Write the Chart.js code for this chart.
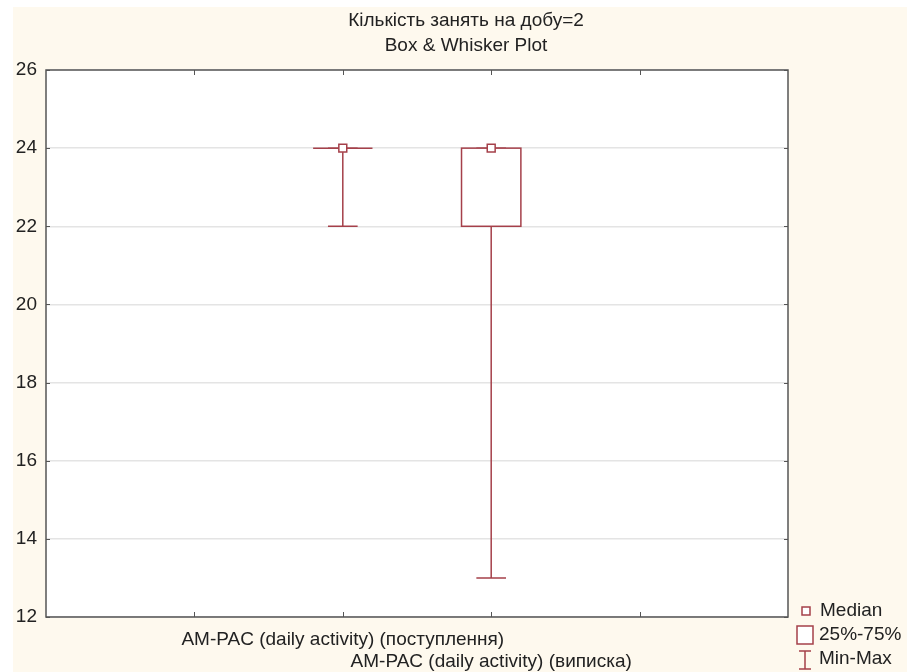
<!DOCTYPE html>
<html>
<head>
<meta charset="utf-8">
<script src="https://cdn.jsdelivr.net/npm/chart.js@4.4.1/dist/chart.umd.min.js"></script>
<style>
  html, body { margin: 0; padding: 0; background: #ffffff; }
  #chart { display: block; }
</style>
</head>
<body>
<canvas id="chart" width="907" height="672"></canvas>
<script>
// data
const titleLines = ['Кількість занять на добу=2', 'Box & Whisker Plot'];
const groups = ['AM-PAC (daily activity) (поступлення)', 'AM-PAC (daily activity) (виписка)'];
const positions = [2, 3];
const mins = [22, 13];
const q1s = [24, 22];
const medians = [24, 24];
const q3s = [24, 24];
const maxs = [24, 24];
const yTicks = [12, 14, 16, 18, 20, 22, 24, 26];
const xTicks = [1, 2, 3, 4];
const legendLabels = ['Median', '25%-75%', 'Min-Max'];

const boxColor = '#a5404a';
const fontFamily = '"Liberation Sans", Arial, sans-serif';

// beige page + white plot area + frame, title and legend
const backgroundPlugin = {
    id: 'backgroundPlugin',
    beforeDraw(chart) {
        const ctx = chart.ctx;
        const a = chart.chartArea;
        ctx.save();
        ctx.fillStyle = '#fef9ee';
        ctx.fillRect(13, 7, chart.width - 13, chart.height - 7);
        ctx.fillStyle = '#ffffff';
        ctx.fillRect(a.left, a.top, a.right - a.left, a.bottom - a.top);
        ctx.restore();
    },
    afterDraw(chart) {
        const ctx = chart.ctx;
        const a = chart.chartArea;
        const x = chart.scales.x;
        const y = chart.scales.y;
        ctx.save();
        ctx.strokeStyle = '#555555';
        ctx.lineWidth = 1.5;
        ctx.strokeRect(a.left, a.top, a.right - a.left, a.bottom - a.top);
        // inward tick marks
        ctx.lineWidth = 1;
        ctx.beginPath();
        xTicks.forEach(v => {
            const px = Math.round(x.getPixelForValue(v)) + 0.5;
            ctx.moveTo(px, a.top); ctx.lineTo(px, a.top + 5);
            ctx.moveTo(px, a.bottom); ctx.lineTo(px, a.bottom - 5);
        });
        yTicks.forEach(v => {
            const py = Math.round(y.getPixelForValue(v)) + 0.5;
            ctx.moveTo(a.left, py); ctx.lineTo(a.left + 4, py);
            ctx.moveTo(a.right, py); ctx.lineTo(a.right - 4, py);
        });
        ctx.stroke();

        // title
        ctx.fillStyle = '#222222';
        ctx.font = '19px ' + fontFamily;
        ctx.textAlign = 'center';
        ctx.textBaseline = 'alphabetic';
        ctx.fillText(titleLines[0], 466, 26);
        ctx.fillText(titleLines[1], 466, 51);

        // legend
        ctx.strokeStyle = boxColor;
        ctx.fillStyle = '#ffffff';
        ctx.lineWidth = 1.5;
        ctx.fillRect(802, 607, 8, 8);
        ctx.strokeRect(802, 607, 8, 8);
        ctx.fillRect(797, 626, 16, 18);
        ctx.strokeRect(797, 626, 16, 18);
        ctx.beginPath();
        ctx.moveTo(799, 651); ctx.lineTo(811, 651);
        ctx.moveTo(805, 651); ctx.lineTo(805, 669);
        ctx.moveTo(799, 669); ctx.lineTo(811, 669);
        ctx.stroke();
        ctx.fillStyle = '#222222';
        ctx.textAlign = 'left';
        ctx.fillText(legendLabels[0], 820, 616);
        ctx.fillText(legendLabels[1], 819, 640);
        ctx.fillText(legendLabels[2], 819, 664);
        ctx.restore();
    }
};

// boxes and whiskers from the arrays above
const boxPlugin = {
    id: 'boxPlugin',
    beforeDatasetsDraw(chart) {
        const ctx = chart.ctx;
        const x = chart.scales.x;
        const y = chart.scales.y;
        const unit = x.getPixelForValue(1) - x.getPixelForValue(0);
        const half = unit * 0.2;
        const cap = unit * 0.1;
        ctx.save();
        ctx.strokeStyle = boxColor;
        ctx.lineWidth = 1.5;
        positions.forEach((pos, i) => {
            const cx = x.getPixelForValue(pos);
            const yMin = y.getPixelForValue(mins[i]);
            const yMax = y.getPixelForValue(maxs[i]);
            const yQ1 = y.getPixelForValue(q1s[i]);
            const yQ3 = y.getPixelForValue(q3s[i]);
            ctx.beginPath();
            ctx.moveTo(cx, yQ1); ctx.lineTo(cx, yMin);
            ctx.moveTo(cx - cap, yMin); ctx.lineTo(cx + cap, yMin);
            ctx.moveTo(cx, yQ3); ctx.lineTo(cx, yMax);
            ctx.moveTo(cx - cap, yMax); ctx.lineTo(cx + cap, yMax);
            ctx.stroke();
            ctx.fillStyle = '#ffffff';
            ctx.fillRect(cx - half, yQ3, half * 2, yQ1 - yQ3);
            ctx.strokeRect(cx - half, yQ3, half * 2, yQ1 - yQ3);
        });
        ctx.restore();
    }
};

Chart.defaults.font.family = fontFamily;
Chart.defaults.font.size = 19;
Chart.defaults.color = '#222222';

new Chart(document.getElementById('chart'), {
    type: 'scatter',
    data: {
        datasets: [{
            label: 'Median',
            data: positions.map((p, i) => ({ x: p, y: medians[i] })),
            pointStyle: 'rect',
            pointRadius: 5.6,
            pointHoverRadius: 5.6,
            pointBackgroundColor: '#ffffff',
            pointBorderColor: boxColor,
            pointBorderWidth: 1.5
        }]
    },
    options: {
        responsive: false,
        animation: false,
        devicePixelRatio: 1,
        layout: { padding: { left: 0, right: 119, top: 70, bottom: 0 } },
        plugins: {
            legend: { display: false },
            tooltip: { enabled: false },
            title: { display: false }
        },
        scales: {
            x: {
                type: 'linear',
                min: 0,
                max: 5,
                afterBuildTicks: scale => { scale.ticks = xTicks.map(v => ({ value: v })); },
                afterFit: scale => { scale.height = 55; },
                grid: { display: false, drawTicks: false },
                border: { display: false },
                ticks: {
                    autoSkip: false,
                    maxRotation: 0,
                    minRotation: 0,
                    padding: 12,
                    font: { size: 19, lineHeight: 1.16 },
                    callback: value => {
                        const i = positions.indexOf(value);
                        if (i === 0) return groups[0];
                        if (i === 1) return ['', groups[1]];
                        return '';
                    }
                }
            },
            y: {
                min: 12,
                max: 26,
                afterBuildTicks: scale => { scale.ticks = yTicks.map(v => ({ value: v })); },
                afterFit: scale => { scale.width = 46; },
                grid: { color: '#e4e4e4', lineWidth: 1.5, drawTicks: false },
                border: { display: false },
                ticks: { padding: 9, font: { size: 19 } }
            }
        }
    },
    plugins: [backgroundPlugin, boxPlugin]
});
</script>
</body>
</html>
